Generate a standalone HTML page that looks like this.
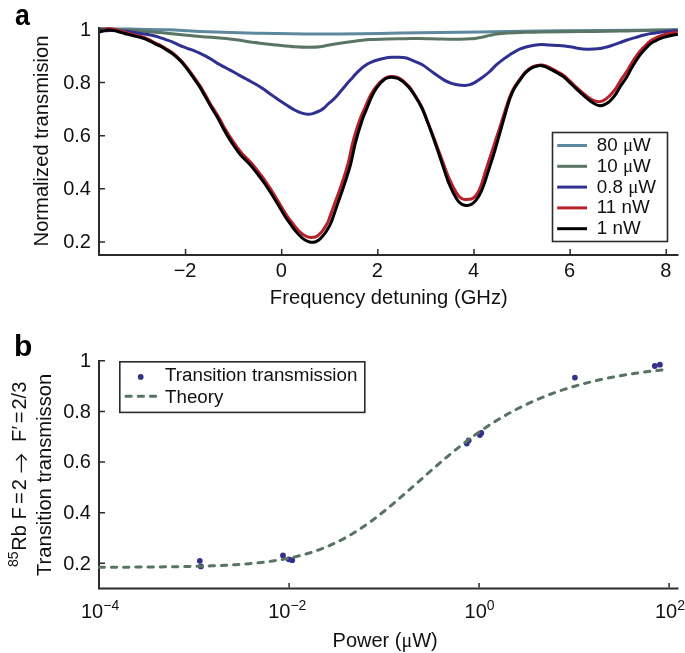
<!DOCTYPE html>
<html><head><meta charset="utf-8"><title>Figure</title><style>
html,body{margin:0;padding:0;background:#fff;}
body{width:685px;height:653px;overflow:hidden;}
svg{display:block;will-change:transform;}
text{font-family:"Liberation Sans",sans-serif;fill:#111;}
.t{font-size:20px;}
.t2{font-size:20.2px;}
.lg{font-size:18.8px;}
.pl{font-size:30px;font-weight:bold;fill:#000;}
.mu{font-family:"Liberation Serif",serif;}
.sup{font-size:14px;}
.sup2{font-size:14px;}
</style></head>
<body>
<svg width="685" height="653" viewBox="0 0 685 653">
<rect width="685" height="653" fill="#fff"/>
<text x="0" y="24.6" class="pl" transform="translate(14.9,0) scale(0.89,1)">a</text>
<text x="14" y="355.6" class="pl">b</text>
<path d="M99.00,28.60 C104.17,28.67 118.33,28.80 130.00,29.00 C141.67,29.20 157.33,29.37 169.00,29.80 C180.67,30.23 184.83,31.02 200.00,31.60 C215.17,32.18 240.00,32.90 260.00,33.30 C280.00,33.70 300.00,33.97 320.00,34.00 C340.00,34.03 363.33,33.72 380.00,33.50 C396.67,33.28 403.33,32.97 420.00,32.70 C436.67,32.43 460.00,32.20 480.00,31.90 C500.00,31.60 520.00,31.15 540.00,30.90 C560.00,30.65 577.03,30.58 600.00,30.40 C622.97,30.22 664.83,29.90 677.80,29.80" fill="none" stroke="#5e889e" stroke-width="3" stroke-linejoin="round" stroke-linecap="butt"/>
<path d="M99.00,29.00 C104.17,29.20 119.83,29.60 130.00,30.20 C140.17,30.80 148.33,31.57 160.00,32.60 C171.67,33.63 188.95,35.40 200.00,36.40 C211.05,37.40 216.30,37.47 226.30,38.60 C236.30,39.73 251.47,42.12 260.00,43.20 C268.53,44.28 271.67,44.50 277.50,45.10 C283.33,45.70 289.88,46.43 295.00,46.80 C300.12,47.17 304.03,47.30 308.20,47.30 C312.37,47.30 315.53,47.37 320.00,46.80 C324.47,46.23 329.57,44.80 335.00,43.90 C340.43,43.00 346.77,42.12 352.60,41.40 C358.43,40.68 364.17,40.02 370.00,39.60 C375.83,39.18 381.77,39.05 387.60,38.90 C393.43,38.75 399.60,38.77 405.00,38.70 C410.40,38.63 414.58,38.47 420.00,38.50 C425.42,38.53 431.67,38.78 437.50,38.90 C443.33,39.02 450.08,39.20 455.00,39.20 C459.92,39.20 463.67,39.02 467.00,38.90 C470.33,38.78 472.62,38.75 475.00,38.50 C477.38,38.25 478.80,37.92 481.30,37.40 C483.80,36.88 487.38,35.97 490.00,35.40 C492.62,34.83 494.07,34.38 497.00,34.00 C499.93,33.62 502.92,33.38 507.60,33.10 C512.28,32.82 519.70,32.50 525.10,32.30 C530.50,32.10 530.85,32.03 540.00,31.90 C549.15,31.77 566.67,31.63 580.00,31.50 C593.33,31.37 609.17,31.28 620.00,31.10 C630.83,30.92 635.37,30.58 645.00,30.40 C654.63,30.22 672.33,30.07 677.80,30.00" fill="none" stroke="#5a7563" stroke-width="3" stroke-linejoin="round" stroke-linecap="butt"/>
<path d="M99.00,31.20 C100.83,31.10 106.60,30.65 110.00,30.60 C113.40,30.55 116.48,30.77 119.40,30.90 C122.32,31.03 124.57,31.07 127.50,31.40 C130.43,31.73 133.85,32.42 137.00,32.90 C140.15,33.38 143.25,33.75 146.40,34.30 C149.55,34.85 153.63,35.65 155.90,36.20 C158.17,36.75 158.35,37.03 160.00,37.60 C161.65,38.17 163.85,38.92 165.80,39.60 C167.75,40.28 169.75,40.92 171.70,41.70 C173.65,42.48 175.55,43.43 177.50,44.30 C179.45,45.17 181.45,46.12 183.40,46.90 C185.35,47.68 187.27,48.30 189.20,49.00 C191.13,49.70 193.20,50.38 195.00,51.10 C196.80,51.82 198.20,52.47 200.00,53.30 C201.80,54.13 203.85,55.05 205.80,56.10 C207.75,57.15 209.75,58.38 211.70,59.60 C213.65,60.82 215.55,62.23 217.50,63.40 C219.45,64.57 221.45,65.57 223.40,66.60 C225.35,67.63 227.27,68.57 229.20,69.60 C231.13,70.63 233.20,71.80 235.00,72.80 C236.80,73.80 238.20,74.60 240.00,75.60 C241.80,76.60 243.85,77.73 245.80,78.80 C247.75,79.87 249.75,80.93 251.70,82.00 C253.65,83.07 255.55,84.05 257.50,85.20 C259.45,86.35 261.45,87.57 263.40,88.90 C265.35,90.23 267.27,91.80 269.20,93.20 C271.13,94.60 273.20,96.03 275.00,97.30 C276.80,98.57 277.95,99.42 280.00,100.80 C282.05,102.18 284.87,104.07 287.30,105.60 C289.73,107.13 292.17,108.73 294.60,110.00 C297.03,111.27 299.72,112.48 301.90,113.20 C304.08,113.92 305.88,114.23 307.70,114.30 C309.52,114.37 310.73,114.20 312.80,113.60 C314.87,113.00 318.23,111.63 320.10,110.70 C321.97,109.77 322.67,109.12 324.00,108.00 C325.33,106.88 326.65,105.30 328.10,104.00 C329.55,102.70 331.30,101.48 332.70,100.20 C334.10,98.92 335.23,97.70 336.50,96.30 C337.77,94.90 339.03,93.32 340.30,91.80 C341.57,90.28 342.82,88.73 344.10,87.20 C345.38,85.67 346.72,84.07 348.00,82.60 C349.28,81.13 350.53,79.82 351.80,78.40 C353.07,76.98 354.32,75.45 355.60,74.10 C356.88,72.75 358.22,71.50 359.50,70.30 C360.78,69.10 362.03,67.92 363.30,66.90 C364.57,65.88 365.83,64.97 367.10,64.20 C368.37,63.43 369.20,63.00 370.90,62.30 C372.60,61.60 375.02,60.68 377.30,60.00 C379.58,59.32 382.17,58.65 384.60,58.20 C387.03,57.75 389.47,57.45 391.90,57.30 C394.33,57.15 397.02,57.22 399.20,57.30 C401.38,57.38 403.18,57.47 405.00,57.80 C406.82,58.13 408.43,58.68 410.10,59.30 C411.77,59.92 412.97,60.60 415.00,61.50 C417.03,62.40 419.87,63.30 422.30,64.70 C424.73,66.10 427.17,68.13 429.60,69.90 C432.03,71.67 434.47,73.60 436.90,75.30 C439.33,77.00 441.77,78.75 444.20,80.10 C446.63,81.45 449.07,82.58 451.50,83.40 C453.93,84.22 456.55,84.67 458.80,85.00 C461.05,85.33 463.13,85.47 465.00,85.40 C466.87,85.33 468.40,85.07 470.00,84.60 C471.60,84.13 472.62,83.73 474.60,82.60 C476.58,81.47 479.47,79.57 481.90,77.80 C484.33,76.03 486.77,74.18 489.20,72.00 C491.63,69.82 494.07,66.88 496.50,64.70 C498.93,62.52 501.55,60.58 503.80,58.90 C506.05,57.22 508.58,55.55 510.00,54.60 C511.42,53.65 510.70,54.10 512.30,53.20 C513.90,52.30 517.17,50.28 519.60,49.20 C522.03,48.12 524.47,47.37 526.90,46.70 C529.33,46.03 531.77,45.57 534.20,45.20 C536.63,44.83 539.07,44.53 541.50,44.50 C543.93,44.47 546.17,44.85 548.80,45.00 C551.43,45.15 554.67,45.25 557.30,45.40 C559.93,45.55 562.17,45.63 564.60,45.90 C567.03,46.17 569.47,46.57 571.90,47.00 C574.33,47.43 576.77,48.13 579.20,48.50 C581.63,48.87 584.07,49.10 586.50,49.20 C588.93,49.30 591.55,49.20 593.80,49.10 C596.05,49.00 598.13,48.88 600.00,48.60 C601.87,48.32 603.15,47.88 605.00,47.40 C606.85,46.92 608.75,46.45 611.10,45.70 C613.45,44.95 616.43,43.85 619.10,42.90 C621.77,41.95 624.42,40.88 627.10,40.00 C629.78,39.12 632.52,38.40 635.20,37.60 C637.88,36.80 640.73,35.87 643.20,35.20 C645.67,34.53 647.95,33.98 650.00,33.60 C652.05,33.22 652.83,33.23 655.50,32.90 C658.17,32.57 662.28,32.00 666.00,31.60 C669.72,31.20 675.83,30.68 677.80,30.50" fill="none" stroke="#303090" stroke-width="3" stroke-linejoin="round" stroke-linecap="butt"/>
<path d="M99.0,30.70 L100.0,30.41 L101.0,30.12 L102.0,29.85 L103.0,29.59 L104.0,29.37 L105.0,29.19 L106.0,29.03 L107.0,28.91 L108.0,28.82 L109.0,28.79 L110.0,28.81 L111.0,28.89 L112.0,29.01 L113.0,29.17 L114.0,29.36 L115.0,29.58 L116.0,29.83 L117.0,30.12 L118.0,30.43 L119.0,30.74 L120.0,31.03 L121.0,31.34 L122.0,31.65 L123.0,31.95 L124.0,32.25 L125.0,32.53 L126.0,32.80 L127.0,33.05 L128.0,33.31 L129.0,33.56 L130.0,33.81 L131.0,34.08 L132.0,34.34 L133.0,34.61 L134.0,34.87 L135.0,35.13 L136.0,35.37 L137.0,35.61 L138.0,35.84 L139.0,36.08 L140.0,36.34 L141.0,36.61 L142.0,36.88 L143.0,37.17 L144.0,37.48 L145.0,37.83 L146.0,38.24 L147.0,38.70 L148.0,39.19 L149.0,39.69 L150.0,40.20 L151.0,40.70 L152.0,41.22 L153.0,41.74 L154.0,42.27 L155.0,42.78 L156.0,43.28 L157.0,43.74 L158.0,44.20 L159.0,44.66 L160.0,45.16 L161.0,45.69 L162.0,46.26 L163.0,46.86 L164.0,47.47 L165.0,48.08 L166.0,48.69 L167.0,49.27 L168.0,49.85 L169.0,50.44 L170.0,51.07 L171.0,51.75 L172.0,52.47 L173.0,53.22 L174.0,54.00 L175.0,54.82 L176.0,55.68 L177.0,56.58 L178.0,57.52 L179.0,58.50 L180.0,59.51 L181.0,60.55 L182.0,61.63 L183.0,62.75 L184.0,63.92 L185.0,65.12 L186.0,66.35 L187.0,67.61 L188.0,68.91 L189.0,70.24 L190.0,71.61 L191.0,73.00 L192.0,74.39 L193.0,75.78 L194.0,77.16 L195.0,78.54 L196.0,79.93 L197.0,81.33 L198.0,82.77 L199.0,84.24 L200.0,85.77 L201.0,87.38 L202.0,89.05 L203.0,90.77 L204.0,92.53 L205.0,94.28 L206.0,96.03 L207.0,97.82 L208.0,99.64 L209.0,101.44 L210.0,103.20 L211.0,104.91 L212.0,106.56 L213.0,108.13 L214.0,109.68 L215.0,111.23 L216.0,112.79 L217.0,114.36 L218.0,115.97 L219.0,117.65 L220.0,119.43 L221.0,121.29 L222.0,123.21 L223.0,125.11 L224.0,126.91 L225.0,128.63 L226.0,130.31 L227.0,131.96 L228.0,133.58 L229.0,135.18 L230.0,136.75 L231.0,138.31 L232.0,139.84 L233.0,141.34 L234.0,142.81 L235.0,144.23 L236.0,145.62 L237.0,147.02 L238.0,148.40 L239.0,149.74 L240.0,151.04 L241.0,152.28 L242.0,153.46 L243.0,154.56 L244.0,155.58 L245.0,156.61 L246.0,157.60 L247.0,158.58 L248.0,159.56 L249.0,160.56 L250.0,161.60 L251.0,162.69 L252.0,163.84 L253.0,165.02 L254.0,166.23 L255.0,167.46 L256.0,168.72 L257.0,169.99 L258.0,171.27 L259.0,172.57 L260.0,173.87 L261.0,175.19 L262.0,176.52 L263.0,177.88 L264.0,179.25 L265.0,180.65 L266.0,182.08 L267.0,183.54 L268.0,185.03 L269.0,186.55 L270.0,188.10 L271.0,189.67 L272.0,191.26 L273.0,192.85 L274.0,194.47 L275.0,196.11 L276.0,197.76 L277.0,199.43 L278.0,201.11 L279.0,202.79 L280.0,204.47 L281.0,206.11 L282.0,207.76 L283.0,209.42 L284.0,211.08 L285.0,212.70 L286.0,214.28 L287.0,215.79 L288.0,217.21 L289.0,218.56 L290.0,219.87 L291.0,221.17 L292.0,222.50 L293.0,223.86 L294.0,225.20 L295.0,226.49 L296.0,227.71 L297.0,228.84 L298.0,229.92 L299.0,230.95 L300.0,231.93 L301.0,232.84 L302.0,233.69 L303.0,234.45 L304.0,235.11 L305.0,235.69 L306.0,236.19 L307.0,236.61 L308.0,236.94 L309.0,237.18 L310.0,237.34 L311.0,237.41 L312.0,237.38 L313.0,237.23 L314.0,237.21 L315.0,237.02 L316.0,236.66 L317.0,236.14 L318.0,235.47 L319.0,234.64 L320.0,233.64 L321.0,232.61 L322.0,231.45 L323.0,230.16 L324.0,228.67 L325.0,227.04 L326.0,225.42 L327.0,223.95 L328.0,221.90 L329.0,219.28 L330.0,216.36 L331.0,213.62 L332.0,210.82 L333.0,208.01 L334.0,205.22 L335.0,202.48 L336.0,199.79 L337.0,197.13 L338.0,194.45 L339.0,191.75 L340.0,188.98 L341.0,186.01 L342.0,183.00 L343.0,180.00 L344.0,176.96 L345.0,173.85 L346.0,170.65 L347.0,167.29 L348.0,163.70 L349.0,159.65 L350.0,155.09 L351.0,150.29 L352.0,145.66 L353.0,141.52 L354.0,137.81 L355.0,134.29 L356.0,131.11 L357.0,128.03 L358.0,125.02 L359.0,122.09 L360.0,119.24 L361.0,116.56 L362.0,114.16 L363.0,111.97 L364.0,109.83 L365.0,107.57 L366.0,105.22 L367.0,102.88 L368.0,100.56 L369.0,98.32 L370.0,96.23 L371.0,94.32 L372.0,92.66 L373.0,91.07 L374.0,89.56 L375.0,88.15 L376.0,86.82 L377.0,85.58 L378.0,84.42 L379.0,83.36 L380.0,82.38 L381.0,81.46 L382.0,80.61 L383.0,79.81 L384.0,79.07 L385.0,78.41 L386.0,77.80 L387.0,77.32 L388.0,76.95 L389.0,76.69 L390.0,76.55 L391.0,76.48 L392.0,76.48 L393.0,76.55 L394.0,76.67 L395.0,76.80 L396.0,76.95 L397.0,77.19 L398.0,77.58 L399.0,78.07 L400.0,78.64 L401.0,79.28 L402.0,79.98 L403.0,80.75 L404.0,81.60 L405.0,82.52 L406.0,83.50 L407.0,84.47 L408.0,85.45 L409.0,86.55 L410.0,87.80 L411.0,89.17 L412.0,90.60 L413.0,92.11 L414.0,93.66 L415.0,95.26 L416.0,96.90 L417.0,98.52 L418.0,100.17 L419.0,101.87 L420.0,103.65 L421.0,105.54 L422.0,107.58 L423.0,109.82 L424.0,112.24 L425.0,114.78 L426.0,117.42 L427.0,120.08 L428.0,122.73 L429.0,125.37 L430.0,128.06 L431.0,130.54 L432.0,133.06 L433.0,135.61 L434.0,138.21 L435.0,140.85 L436.0,143.53 L437.0,146.23 L438.0,148.95 L439.0,151.66 L440.0,154.36 L441.0,157.08 L442.0,159.81 L443.0,162.55 L444.0,165.32 L445.0,168.12 L446.0,170.77 L447.0,173.38 L448.0,175.90 L449.0,178.26 L450.0,180.37 L451.0,182.49 L452.0,184.59 L453.0,186.61 L454.0,188.48 L455.0,190.23 L456.0,192.03 L457.0,193.70 L458.0,195.14 L459.0,196.32 L460.0,197.28 L461.0,198.06 L462.0,198.67 L463.0,199.10 L464.0,199.38 L465.0,199.54 L466.0,199.58 L467.0,199.48 L468.0,199.24 L469.0,199.31 L470.0,199.25 L471.0,199.03 L472.0,198.64 L473.0,198.08 L474.0,197.35 L475.0,196.42 L476.0,195.34 L477.0,193.96 L478.0,192.32 L479.0,190.36 L480.0,188.10 L481.0,185.55 L482.0,182.62 L483.0,179.44 L484.0,176.18 L485.0,172.78 L486.0,169.67 L487.0,166.61 L488.0,163.57 L489.0,160.50 L490.0,157.48 L491.0,154.41 L492.0,151.13 L493.0,148.16 L494.0,145.14 L495.0,142.11 L496.0,139.07 L497.0,136.02 L498.0,132.97 L499.0,129.92 L500.0,126.86 L501.0,123.65 L502.0,120.42 L503.0,117.23 L504.0,114.08 L505.0,110.91 L506.0,107.77 L507.0,104.72 L508.0,101.69 L509.0,98.86 L510.0,96.27 L511.0,93.89 L512.0,91.61 L513.0,89.53 L514.0,87.76 L515.0,86.18 L516.0,84.68 L517.0,83.24 L518.0,81.84 L519.0,80.47 L520.0,79.10 L521.0,77.75 L522.0,76.36 L523.0,74.93 L524.0,73.58 L525.0,72.44 L526.0,71.47 L527.0,70.61 L528.0,69.81 L529.0,69.07 L530.0,68.39 L531.0,67.77 L532.0,67.22 L533.0,66.75 L534.0,66.36 L535.0,66.03 L536.0,65.76 L537.0,65.54 L538.0,65.37 L539.0,65.19 L540.0,65.08 L541.0,65.05 L542.0,65.10 L543.0,65.22 L544.0,65.40 L545.0,65.65 L546.0,65.98 L547.0,66.38 L548.0,66.82 L549.0,67.26 L550.0,67.71 L551.0,68.22 L552.0,68.74 L553.0,69.28 L554.0,69.82 L555.0,70.36 L556.0,70.91 L557.0,71.46 L558.0,72.00 L559.0,72.53 L560.0,73.06 L561.0,73.60 L562.0,74.19 L563.0,74.85 L564.0,75.59 L565.0,76.42 L566.0,77.33 L567.0,78.29 L568.0,79.26 L569.0,80.22 L570.0,81.17 L571.0,82.14 L572.0,83.12 L573.0,84.09 L574.0,85.06 L575.0,86.00 L576.0,86.92 L577.0,87.83 L578.0,88.73 L579.0,89.62 L580.0,90.50 L581.0,91.35 L582.0,92.19 L583.0,93.03 L584.0,93.86 L585.0,94.69 L586.0,95.50 L587.0,96.30 L588.0,97.08 L589.0,97.81 L590.0,98.50 L591.0,99.03 L592.0,99.56 L593.0,100.05 L594.0,100.47 L595.0,100.84 L596.0,101.17 L597.0,101.44 L598.0,101.60 L599.0,101.63 L600.0,101.57 L601.0,101.39 L602.0,101.10 L603.0,100.73 L604.0,100.19 L605.0,99.57 L606.0,98.86 L607.0,98.05 L608.0,97.21 L609.0,96.34 L610.0,95.38 L611.0,94.32 L612.0,93.19 L613.0,92.04 L614.0,90.80 L615.0,89.48 L616.0,88.07 L617.0,86.55 L618.0,84.90 L619.0,83.18 L620.0,81.48 L621.0,79.87 L622.0,78.37 L623.0,76.94 L624.0,75.53 L625.0,74.09 L626.0,72.68 L627.0,71.15 L628.0,69.48 L629.0,67.72 L630.0,65.94 L631.0,64.19 L632.0,62.52 L633.0,60.95 L634.0,59.43 L635.0,57.94 L636.0,56.51 L637.0,55.10 L638.0,53.74 L639.0,52.42 L640.0,51.17 L641.0,50.01 L642.0,48.93 L643.0,47.92 L644.0,46.96 L645.0,46.00 L646.0,44.96 L647.0,43.93 L648.0,42.95 L649.0,42.03 L650.0,41.20 L651.0,40.47 L652.0,39.85 L653.0,39.31 L654.0,38.83 L655.0,38.36 L656.0,37.85 L657.0,37.36 L658.0,36.90 L659.0,36.47 L660.0,36.06 L661.0,35.68 L662.0,35.34 L663.0,35.02 L664.0,34.74 L665.0,34.47 L666.0,34.20 L667.0,33.98 L668.0,33.76 L669.0,33.56 L670.0,33.38 L671.0,33.21 L672.0,33.06 L673.0,32.93 L674.0,32.81 L675.0,32.70 L676.0,32.59 L677.0,32.48 L677.8,32.39" fill="none" stroke="#b8202a" stroke-width="3" stroke-linejoin="round" stroke-linecap="butt"/>
<path d="M99.00,32.00 C99.85,31.77 102.40,30.93 104.10,30.60 C105.80,30.27 107.50,30.00 109.20,30.00 C110.90,30.00 112.60,30.27 114.30,30.60 C116.00,30.93 117.70,31.52 119.40,32.00 C121.10,32.48 122.78,33.03 124.50,33.50 C126.22,33.97 127.98,34.37 129.70,34.80 C131.42,35.23 133.10,35.68 134.80,36.10 C136.50,36.52 138.20,36.85 139.90,37.30 C141.60,37.75 143.30,38.15 145.00,38.80 C146.70,39.45 148.40,40.37 150.10,41.20 C151.80,42.03 153.50,42.97 155.20,43.80 C156.90,44.63 158.60,45.30 160.30,46.20 C162.00,47.10 163.72,48.20 165.40,49.20 C167.08,50.20 168.68,51.02 170.40,52.20 C172.12,53.38 173.92,54.73 175.70,56.30 C177.48,57.87 179.30,59.63 181.10,61.60 C182.90,63.57 184.72,65.80 186.50,68.10 C188.28,70.40 189.70,72.43 191.80,75.40 C193.90,78.37 196.93,82.52 199.10,85.90 C201.27,89.28 202.93,92.42 204.80,95.70 C206.67,98.98 208.13,101.88 210.30,105.60 C212.47,109.32 215.68,114.27 217.80,118.00 C219.92,121.73 221.20,124.73 223.00,128.00 C224.80,131.27 226.77,134.60 228.60,137.60 C230.43,140.60 232.00,143.10 234.00,146.00 C236.00,148.90 238.07,152.03 240.60,155.00 C243.13,157.97 246.47,160.75 249.20,163.80 C251.93,166.85 254.43,170.02 257.00,173.30 C259.57,176.58 262.18,180.05 264.60,183.50 C267.02,186.95 269.20,190.37 271.50,194.00 C273.80,197.63 276.08,201.47 278.40,205.30 C280.72,209.13 283.38,213.85 285.40,217.00 C287.42,220.15 288.80,221.85 290.50,224.20 C292.20,226.55 293.83,228.97 295.60,231.10 C297.37,233.23 299.45,235.47 301.10,237.00 C302.75,238.53 304.08,239.47 305.50,240.30 C306.92,241.13 308.30,241.67 309.60,242.00 C310.90,242.33 312.08,242.45 313.30,242.30 C314.52,242.15 315.68,241.75 316.90,241.10 C318.12,240.45 319.37,239.55 320.60,238.40 C321.83,237.25 323.15,235.73 324.30,234.20 C325.45,232.67 326.42,231.02 327.50,229.20 C328.58,227.38 329.18,227.33 330.80,223.30 C332.42,219.27 335.08,211.05 337.20,205.00 C339.32,198.95 341.30,193.67 343.50,187.00 C345.70,180.33 348.38,172.50 350.40,165.00 C352.42,157.50 353.63,149.50 355.60,142.00 C357.57,134.50 360.37,125.50 362.20,120.00 C364.03,114.50 365.15,112.60 366.60,109.00 C368.05,105.40 369.70,101.13 370.90,98.40 C372.10,95.67 372.82,94.38 373.80,92.60 C374.78,90.82 375.82,89.15 376.80,87.70 C377.78,86.25 378.73,85.02 379.70,83.90 C380.67,82.78 381.63,81.85 382.60,81.00 C383.57,80.15 384.53,79.37 385.50,78.80 C386.47,78.23 387.42,77.85 388.40,77.60 C389.38,77.35 390.42,77.30 391.40,77.30 C392.38,77.30 393.33,77.45 394.30,77.60 C395.27,77.75 396.23,77.85 397.20,78.20 C398.17,78.55 399.13,79.12 400.10,79.70 C401.07,80.28 402.02,80.92 403.00,81.70 C403.98,82.48 404.85,83.27 406.00,84.40 C407.15,85.53 408.35,86.48 409.90,88.50 C411.45,90.52 413.30,93.25 415.30,96.50 C417.30,99.75 419.80,103.58 421.90,108.00 C424.00,112.42 426.02,118.10 427.90,123.00 C429.78,127.90 431.40,132.32 433.20,137.40 C435.00,142.48 437.17,148.98 438.70,153.50 C440.23,158.02 440.95,160.17 442.40,164.50 C443.85,168.83 446.05,175.75 447.40,179.50 C448.75,183.25 449.47,184.67 450.50,187.00 C451.53,189.33 452.47,191.35 453.60,193.50 C454.73,195.65 456.08,198.22 457.30,199.90 C458.52,201.58 459.68,202.70 460.90,203.60 C462.12,204.50 463.38,205.00 464.60,205.30 C465.82,205.60 466.98,205.63 468.20,205.40 C469.42,205.17 470.68,204.68 471.90,203.90 C473.12,203.12 474.28,202.10 475.50,200.70 C476.72,199.30 478.03,197.53 479.20,195.50 C480.37,193.47 481.45,191.08 482.50,188.50 C483.55,185.92 484.47,183.08 485.50,180.00 C486.53,176.92 487.68,173.17 488.70,170.00 C489.72,166.83 490.63,164.03 491.60,161.00 C492.57,157.97 492.98,156.97 494.50,151.80 C496.02,146.63 499.03,135.88 500.70,130.00 C502.37,124.12 503.20,121.03 504.50,116.50 C505.80,111.97 507.30,106.55 508.50,102.80 C509.70,99.05 510.62,96.60 511.70,94.00 C512.78,91.40 513.37,89.88 515.00,87.20 C516.63,84.52 519.70,80.38 521.50,77.90 C523.30,75.42 524.02,74.02 525.80,72.30 C527.58,70.58 530.07,68.70 532.20,67.60 C534.33,66.50 536.63,65.93 538.60,65.70 C540.57,65.47 542.20,65.72 544.00,66.20 C545.80,66.68 547.23,67.50 549.40,68.60 C551.57,69.70 554.67,71.47 557.00,72.80 C559.33,74.13 561.40,75.10 563.40,76.60 C565.40,78.10 567.07,79.95 569.00,81.80 C570.93,83.65 573.00,85.80 575.00,87.70 C577.00,89.60 579.05,91.45 581.00,93.20 C582.95,94.95 585.20,96.93 586.70,98.20 C588.20,99.47 588.72,99.87 590.00,100.80 C591.28,101.73 592.93,103.00 594.40,103.80 C595.87,104.60 597.35,105.37 598.80,105.60 C600.25,105.83 601.65,105.62 603.10,105.20 C604.55,104.78 606.03,104.13 607.50,103.10 C608.97,102.07 610.43,100.63 611.90,99.00 C613.37,97.37 614.78,95.55 616.30,93.30 C617.82,91.05 619.28,88.18 621.00,85.50 C622.72,82.82 624.68,80.37 626.60,77.20 C628.52,74.03 630.35,70.08 632.50,66.50 C634.65,62.92 637.42,58.58 639.50,55.70 C641.58,52.82 643.20,51.17 645.00,49.20 C646.80,47.23 648.55,45.30 650.30,43.90 C652.05,42.50 653.75,41.72 655.50,40.80 C657.25,39.88 659.05,39.07 660.80,38.40 C662.55,37.73 664.25,37.28 666.00,36.80 C667.75,36.32 669.33,35.90 671.30,35.50 C673.27,35.10 676.72,34.58 677.80,34.40" fill="none" stroke="#000000" stroke-width="3" stroke-linejoin="round" stroke-linecap="butt"/>
<path d="M99,27 V255 M98,255 H678.5" fill="none" stroke="#2b2b2b" stroke-width="2"/>
<path d="M100,241.89 H105 M100,188.76 H105 M100,135.63 H105 M100,82.50 H105 M100,29.37 H105 M185.56,254 V249 M281.70,254 V249 M377.84,254 V249 M473.98,254 V249 M570.12,254 V249 M666.26,254 V249 " fill="none" stroke="#2b2b2b" stroke-width="1.5"/>
<text x="91" y="248.19" class="t" text-anchor="end">0.2</text>
<text x="91" y="195.06" class="t" text-anchor="end">0.4</text>
<text x="91" y="141.93" class="t" text-anchor="end">0.6</text>
<text x="91" y="88.80" class="t" text-anchor="end">0.8</text>
<text x="91" y="35.67" class="t" text-anchor="end">1</text>
<text x="185.06" y="276.8" class="t" text-anchor="middle">−2</text>
<text x="281.20" y="276.8" class="t" text-anchor="middle">0</text>
<text x="377.34" y="276.8" class="t" text-anchor="middle">2</text>
<text x="473.48" y="276.8" class="t" text-anchor="middle">4</text>
<text x="569.62" y="276.8" class="t" text-anchor="middle">6</text>
<text x="665.76" y="276.8" class="t" text-anchor="middle">8</text>
<text x="388.8" y="304.4" class="t2" text-anchor="middle">Frequency detuning (GHz)</text>
<text transform="translate(47.8,141) rotate(-90)" class="t2" text-anchor="middle">Normalized transmision</text>
<rect x="552.5" y="132.5" width="115" height="109" fill="#fff" stroke="#2b2b2b" stroke-width="1.6"/>
<path d="M557.2,145.50 H587" stroke="#5e889e" stroke-width="3"/>
<text x="596.8" y="151.00" class="lg">80 <tspan class="mu">μ</tspan>W</text>
<path d="M557.2,166.30 H587" stroke="#5a7563" stroke-width="3"/>
<text x="596.8" y="171.80" class="lg">10 <tspan class="mu">μ</tspan>W</text>
<path d="M557.2,187.10 H587" stroke="#303090" stroke-width="3"/>
<text x="596.8" y="192.60" class="lg">0.8 <tspan class="mu">μ</tspan>W</text>
<path d="M557.2,207.90 H587" stroke="#b8202a" stroke-width="3"/>
<text x="596.8" y="213.40" class="lg">11 nW</text>
<path d="M557.2,228.70 H587" stroke="#000000" stroke-width="3"/>
<text x="596.8" y="234.20" class="lg">1 nW</text>
<circle cx="199.8" cy="560.8" r="2.9" fill="#32328c"/>
<circle cx="200.9" cy="566.4" r="2.9" fill="#32328c"/>
<circle cx="283" cy="555.4" r="2.9" fill="#32328c"/>
<circle cx="288.8" cy="559.3" r="2.9" fill="#32328c"/>
<circle cx="292.2" cy="560.2" r="2.9" fill="#32328c"/>
<circle cx="466.8" cy="443.6" r="2.9" fill="#32328c"/>
<circle cx="468.7" cy="440.4" r="2.9" fill="#32328c"/>
<circle cx="479.9" cy="435" r="2.9" fill="#32328c"/>
<circle cx="481.3" cy="432.9" r="2.9" fill="#32328c"/>
<circle cx="574.9" cy="377.6" r="2.9" fill="#32328c"/>
<circle cx="654.8" cy="366" r="2.9" fill="#32328c"/>
<circle cx="659.9" cy="364.7" r="2.9" fill="#32328c"/>
<path d="M99,360 V588.5 M98,588.5 H678.5" fill="none" stroke="#2b2b2b" stroke-width="2"/>
<clipPath id="cb"><rect x="98" y="300" width="600" height="300"/></clipPath>
<path d="M99.10,567.24 L103.79,567.23 L108.48,567.21 L113.17,567.20 L117.86,567.18 L122.55,567.16 L127.25,567.14 L131.94,567.12 L136.63,567.09 L141.32,567.06 L146.01,567.03 L150.70,566.99 L155.39,566.95 L160.08,566.90 L164.77,566.85 L169.46,566.79 L174.15,566.73 L178.84,566.66 L183.53,566.57 L188.23,566.48 L192.92,566.38 L197.61,566.27 L202.30,566.14 L206.99,566.00 L211.68,565.84 L216.37,565.66 L221.06,565.46 L225.75,565.24 L230.44,564.99 L235.13,564.71 L239.82,564.40 L244.52,564.06 L249.21,563.68 L253.90,563.25 L258.59,562.78 L263.28,562.25 L267.97,561.67 L272.66,561.02 L277.35,560.30 L282.04,559.51 L286.73,558.64 L291.42,557.67 L296.12,556.61 L300.81,555.44 L305.50,554.17 L310.19,552.77 L314.88,551.24 L319.57,549.58 L324.26,547.78 L328.95,545.84 L333.64,543.73 L338.33,541.48 L343.02,539.06 L347.71,536.48 L352.40,533.74 L357.10,530.83 L361.79,527.77 L366.48,524.56 L371.17,521.20 L375.86,517.70 L380.55,514.08 L385.24,510.34 L389.93,506.49 L394.62,502.56 L399.31,498.55 L404.00,494.48 L408.69,490.36 L413.39,486.21 L418.08,482.05 L422.77,477.89 L427.46,473.75 L432.15,469.63 L436.84,465.55 L441.53,461.52 L446.22,457.55 L450.91,453.65 L455.60,449.83 L460.29,446.10 L464.99,442.45 L469.68,438.91 L474.37,435.46 L479.06,432.12 L483.75,428.88 L488.44,425.76 L493.13,422.73 L497.82,419.82 L502.51,417.02 L507.20,414.32 L511.89,411.73 L516.58,409.25 L521.27,406.87 L525.97,404.59 L530.66,402.40 L535.35,400.32 L540.04,398.32 L544.73,396.42 L549.42,394.60 L554.11,392.87 L558.80,391.22 L563.49,389.64 L568.18,388.15 L572.87,386.72 L577.56,385.37 L582.26,384.08 L586.95,382.85 L591.64,381.69 L596.33,380.58 L601.02,379.53 L605.71,378.54 L610.40,377.59 L615.09,376.70 L619.78,375.84 L624.47,375.04 L629.16,374.27 L633.86,373.55 L638.55,372.86 L643.24,372.21 L647.93,371.59 L652.62,371.01 L657.31,370.46 L662.00,369.93" fill="none" stroke="#587362" stroke-width="3" stroke-dasharray="5.3 6.929" stroke-linecap="round" clip-path="url(#cb)"/>
<path d="M100,563.28 H105 M100,512.66 H105 M100,462.04 H105 M100,411.42 H105 M100,360.80 H105 M289.10,587.5 V583 M479.10,587.5 V583 M669.10,587.5 V583 " fill="none" stroke="#2b2b2b" stroke-width="1.5"/>
<text x="91" y="569.58" class="t" text-anchor="end">0.2</text>
<text x="91" y="518.96" class="t" text-anchor="end">0.4</text>
<text x="91" y="468.34" class="t" text-anchor="end">0.6</text>
<text x="91" y="417.72" class="t" text-anchor="end">0.8</text>
<text x="91" y="367.10" class="t" text-anchor="end">1</text>
<text x="100.10" y="618.3" class="t" text-anchor="middle">10<tspan class="sup" dy="-8.5">−4</tspan></text>
<text x="287.30" y="618.3" class="t" text-anchor="middle">10<tspan class="sup" dy="-8.5">−2</tspan></text>
<text x="479.60" y="618.3" class="t" text-anchor="middle">10<tspan class="sup" dy="-8.5">0</tspan></text>
<text x="669.90" y="618.3" class="t" text-anchor="middle">10<tspan class="sup" dy="-8.5">2</tspan></text>
<text x="385.2" y="647.1" class="t" text-anchor="middle">Power (<tspan class="mu">μ</tspan>W)</text>
<g transform="translate(26.1,0) rotate(-90)"><text class="t" y="0"><tspan class="sup2" x="-567.1" y="-8.5">85</tspan><tspan x="-550.7" y="0">Rb</tspan><tspan x="-519.5">F</tspan><tspan x="-504.1">=</tspan><tspan x="-490.3">2</tspan><tspan x="-441.9">F</tspan><tspan x="-429.6">′</tspan><tspan x="-423.3">=</tspan><tspan x="-409.5">2/3</tspan></text><path d="M-472.5,-4.7 H-455 M-460.2,-10 L-454.6,-4.7 L-460.2,0.6" fill="none" stroke="#111" stroke-width="1.3"/></g>
<text transform="translate(50.5,474.9) rotate(-90)" class="t2" text-anchor="middle">Transition transmisson</text>
<rect x="119.8" y="361.8" width="245" height="50.6" fill="#fff" stroke="#2b2b2b" stroke-width="1.6"/>
<circle cx="140.7" cy="376.9" r="2.9" fill="#32328c"/>
<path d="M126,396.3 H156" stroke="#587362" stroke-width="3" stroke-dasharray="5.3 6.9" stroke-linecap="round"/>
<text x="165" y="380.9" class="lg">Transition transmission</text>
<text x="165" y="403.2" class="lg">Theory</text>
</svg>
</body></html>
